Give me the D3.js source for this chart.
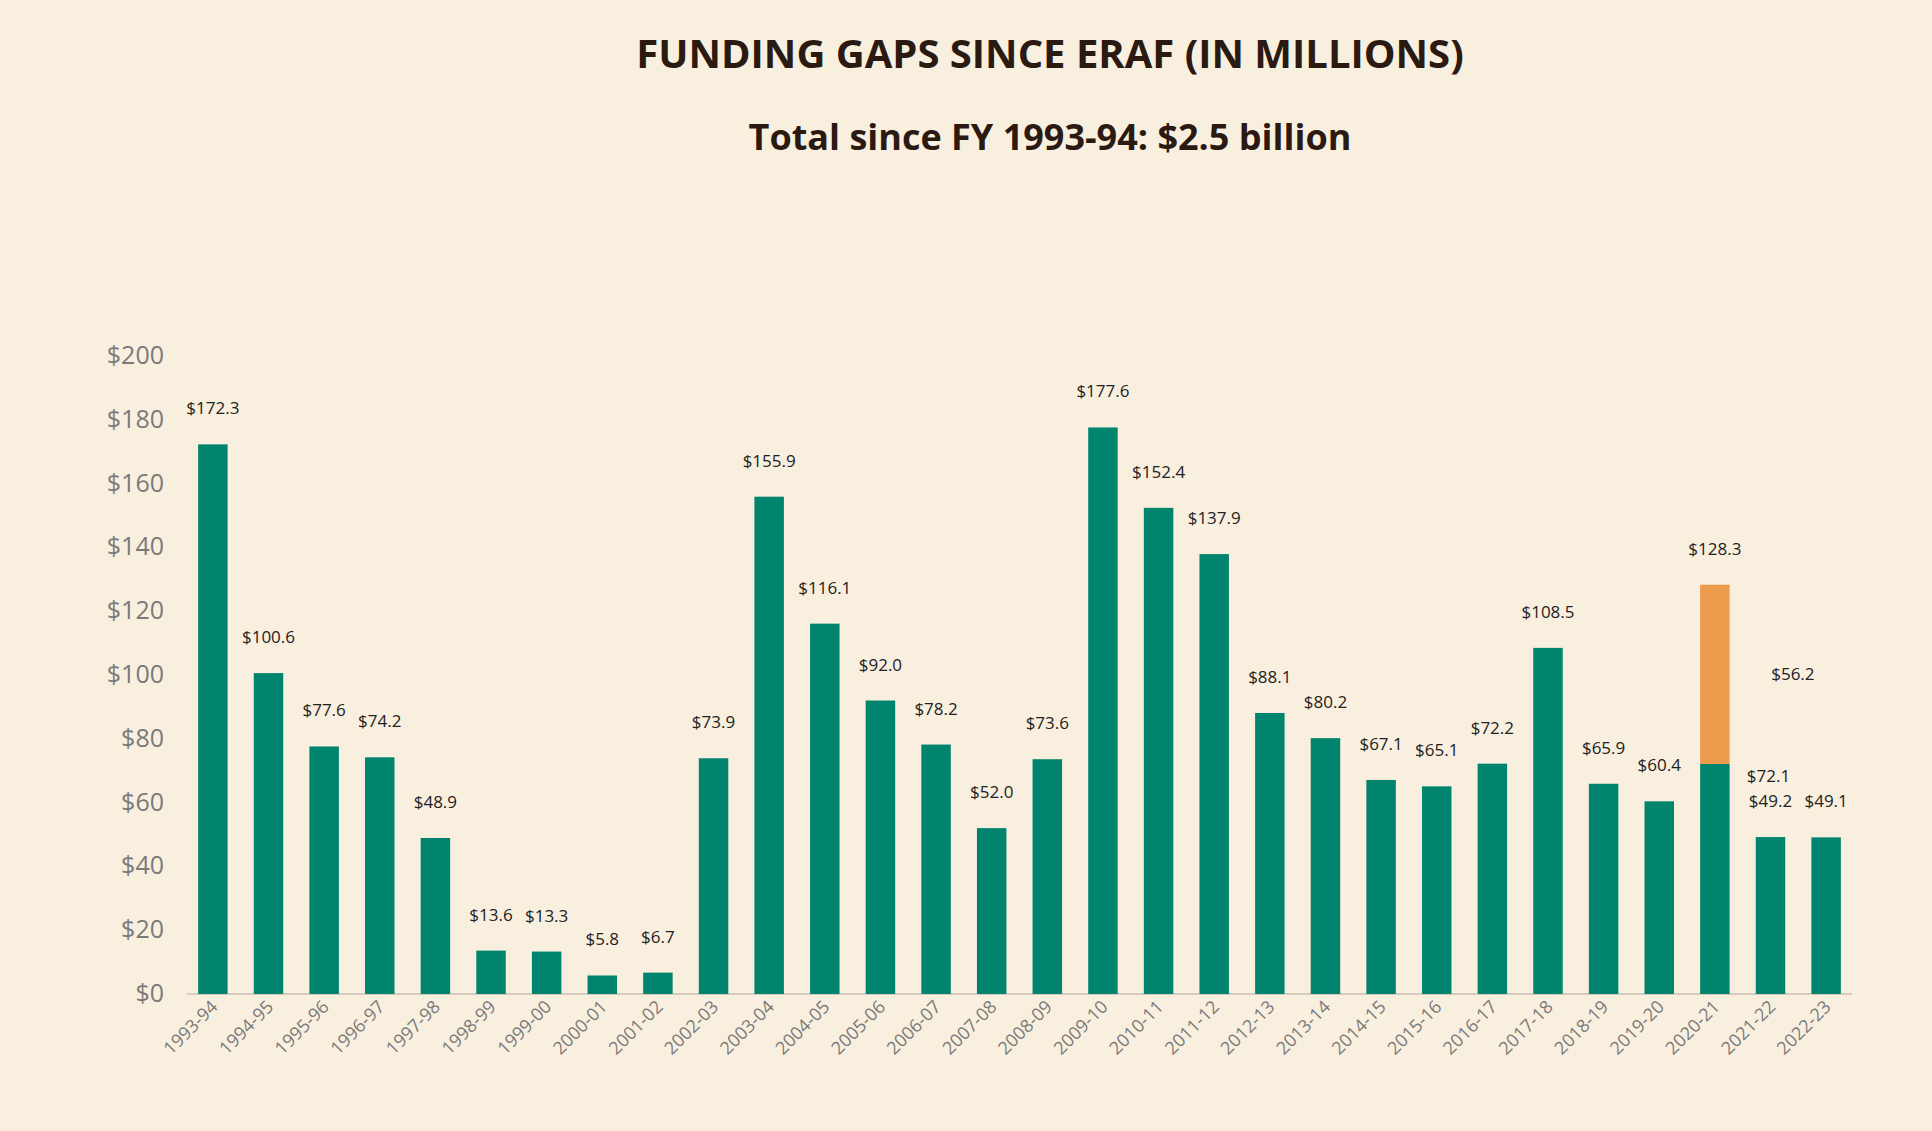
<!DOCTYPE html>
<html><head><meta charset="utf-8">
<script src="https://cdn.jsdelivr.net/npm/d3@7"></script>
<style>
body{margin:0;background:#f9efdf;}
text{font-family:"Liberation Sans Narrow","Open Sans",sans-serif;}
</style></head>
<body><svg id="chart" width="1932" height="1131"></svg>
<script>
// Funding gaps by fiscal year (millions)
var years = ["1993-94","1994-95","1995-96","1996-97","1997-98","1998-99","1999-00","2000-01","2001-02","2002-03",
  "2003-04","2004-05","2005-06","2006-07","2007-08","2008-09","2009-10","2010-11","2011-12","2012-13",
  "2013-14","2014-15","2015-16","2016-17","2017-18","2018-19","2019-20","2020-21","2021-22","2022-23"];
var gaps = [172.3,100.6,77.6,74.2,48.9,13.6,13.3,5.8,6.7,73.9,155.9,116.1,92.0,78.2,52.0,73.6,177.6,152.4,137.9,88.1,
  80.2,67.1,65.1,72.2,108.5,65.9,60.4,72.1,49.2,49.1];
// extra piece on top of 2020-21
var extraYear = "2020-21", extraValue = 56.2;
var yTicks = [0,20,40,60,80,100,120,140,160,180,200];

var svg = d3.select("#chart");
svg.append("rect").attr("width",1932).attr("height",1131).attr("fill","#f9efdf");

var x = d3.scaleBand().domain(years).range([187,1852]).paddingInner(0.47).paddingOuter(0.2);
var y = d3.scaleLinear().domain([0,200]).range([994,356]);

svg.append("text").attr("x",1050).attr("y",68).attr("text-anchor","middle")
  .style("font-family","'Open Sans',sans-serif").attr("font-weight","bold").attr("font-size",40).attr("fill","#2a1a12")
  .text("FUNDING GAPS SINCE ERAF (IN MILLIONS)");
svg.append("text").attr("x",1050).attr("y",150).attr("text-anchor","middle")
  .style("font-family","'Open Sans',sans-serif").attr("font-weight","bold").attr("font-size",36).attr("fill","#2a1a12")
  .text("Total since FY 1993-94:  $2.5 billion");

yTicks.forEach(function(t){
  svg.append("text").attr("x",164).attr("y",y(t)+8).attr("text-anchor","end")
    .attr("font-size",25).attr("fill","#7a7a7a").text("$"+t);
});

svg.append("line").attr("x1",187).attr("x2",1852).attr("y1",y(0)).attr("y2",y(0))
  .attr("stroke","#c8c0b4").attr("stroke-width",1.5);

svg.selectAll(".bar").data(years).enter().append("rect")
  .attr("x",function(d){return x(d);}).attr("width",x.bandwidth())
  .attr("y",function(d,i){return y(gaps[i]);})
  .attr("height",function(d,i){return y(0)-y(gaps[i]);})
  .attr("fill","#00846e");

var ei = years.indexOf(extraYear);
svg.append("rect").attr("x",x(extraYear)).attr("width",x.bandwidth())
  .attr("y",y(gaps[ei]+extraValue)).attr("height",y(0)-y(extraValue)).attr("fill","#ec9a4c");

svg.selectAll(".lbl").data(years).enter().append("text")
  .attr("x",function(d){return x(d)+x.bandwidth()/2 + (d===extraYear?32:0);})
  .attr("y",function(d,i){return d===extraYear ? y(gaps[i])+18 : y(gaps[i])-30;})
  .attr("text-anchor",function(d){return d===extraYear?"start":"middle";})
  .attr("font-size",17).attr("fill","#222")
  .text(function(d,i){return "$"+gaps[i].toFixed(1);});
svg.append("text").attr("x",x(extraYear)+x.bandwidth()/2).attr("y",y(gaps[ei]+extraValue)-30)
  .attr("text-anchor","middle").attr("font-size",17).attr("fill","#222")
  .text("$"+(gaps[ei]+extraValue).toFixed(1));
svg.append("text").attr("x",x(extraYear)+x.bandwidth()/2+78).attr("y",y(gaps[ei]+extraValue/2)+6)
  .attr("text-anchor","middle").attr("font-size",17).attr("fill","#222")
  .text("$"+extraValue.toFixed(1));

svg.selectAll(".xl").data(years).enter().append("text")
  .attr("transform",function(d){return "translate("+(x(d)+x.bandwidth()/2+6)+","+(y(0)+14)+") rotate(-45)";})
  .attr("text-anchor","end").attr("font-size",18).attr("fill","#7a7a7a").text(function(d){return d;});
</script></body></html>
